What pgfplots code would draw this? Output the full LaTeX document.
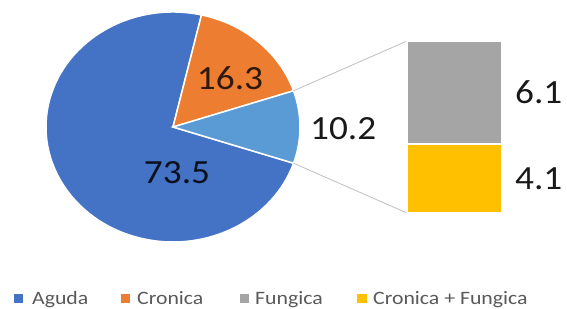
\documentclass[border=0pt]{standalone}
\usepackage{pgfplots}
\pgfplotsset{compat=1.18}
\usepackage{pgfplotstable}
\usepackage{fontspec}
\setmainfont{Carlito}
\newfontfamily\labfont[FakeStretch=1.1]{Carlito}
\newfontfamily\legfont[FakeStretch=1.15]{Carlito}
\definecolor{cA}{HTML}{4472C4}
\definecolor{cB}{HTML}{ED7D31}
\definecolor{cC}{HTML}{5B9BD5}
\definecolor{cD}{HTML}{A5A5A5}
\definecolor{cE}{HTML}{FFC000}
\definecolor{legtxt}{HTML}{595959}
\definecolor{conn}{HTML}{BFBFBF}
\pgfplotstableread{
name value
Aguda 73.5
Cronica 16.3
Otras 10.2
}\pietable
\pgfplotstableread{
x fungica cronfung
0 6.1 4.1
}\bartable
\begin{document}
\begin{tikzpicture}
\useasboundingbox (0,0) rectangle (567bp,309bp);
\pgfplotstablegetelem{0}{value}\of\pietable \let\vA\pgfplotsretval
\pgfplotstablegetelem{1}{value}\of\pietable \let\vB\pgfplotsretval
\pgfplotstablegetelem{2}{value}\of\pietable \let\vC\pgfplotsretval
\pgfmathsetmacro{\aS}{-\vC*1.8}
\pgfmathsetmacro{\aB}{\aS+\vC*3.6}
\pgfmathsetmacro{\aC}{\aB+\vB*3.6}
\pgfmathsetmacro{\aD}{\aC+\vA*3.6}
\begin{axis}[at={(0,0)},anchor=south west, scale only axis, width=567bp, height=309bp,
  xmin=0,xmax=567,ymin=0,ymax=309, hide axis, clip=false]
  \filldraw[fill=cA, draw=white, line width=1.5bp] (axis cs:173,182) -- ++(\aC:127bp and 115bp)
     arc[start angle=\aC, end angle=\aD, x radius=127bp, y radius=115bp] -- cycle;
  \filldraw[fill=cB, draw=white, line width=1.5bp] (axis cs:173,182) -- ++(\aB:127bp and 115bp)
     arc[start angle=\aB, end angle=\aC, x radius=127bp, y radius=115bp] -- cycle;
  \filldraw[fill=cC, draw=white, line width=1.5bp] (axis cs:173,182) -- ++(\aS:127bp and 115bp)
     arc[start angle=\aS, end angle=\aB, x radius=127bp, y radius=115bp] -- cycle;
  \draw[conn, line width=0.8bp] (axis cs:173,182) ++(\aB:127bp and 115bp) -- (axis cs:407,268);
  \draw[conn, line width=0.8bp] (axis cs:173,182) ++(\aS:127bp and 115bp) -- (axis cs:407,96);
  \node[inner sep=0, text=black!85!cA] at (axis cs:177,136) {\labfont\fontsize{34}{34}\selectfont \vA};
  \node[inner sep=0, text=black!80!cB] at (axis cs:230,231) {\labfont\fontsize{34}{34}\selectfont \vB};
  \node[inner sep=0, anchor=west, text=black!90] at (axis cs:310,180) {\labfont\fontsize{34}{34}\selectfont \vC};
  % legend
  \fill[cA] (axis cs:13.5,5.5) rectangle (axis cs:23,15);
  \node[anchor=base west, inner sep=0, text=legtxt] at (axis cs:32,5) {\legfont\fontsize{19}{20}\selectfont Aguda};
  \fill[cB] (axis cs:120.5,5.5) rectangle (axis cs:130,15);
  \node[anchor=base west, inner sep=0, text=legtxt] at (axis cs:137,5) {\legfont\fontsize{19}{20}\selectfont Cronica};
  \fill[cD] (axis cs:239.5,5.5) rectangle (axis cs:249,15);
  \node[anchor=base west, inner sep=0, text=legtxt] at (axis cs:255,5) {\legfont\fontsize{19}{20}\selectfont Fungica};
  \fill[cE] (axis cs:357,5.5) rectangle (axis cs:366.5,15);
  \node[anchor=base west, inner sep=0, text=legtxt] at (axis cs:373,5) {\legfont\fontsize{19}{20}\selectfont Cronica + Fungica};
\end{axis}
\begin{axis}[at={(407bp,96bp)}, anchor=south west, scale only axis, width=95bp, height=172bp,
  xmin=-0.5, xmax=0.5, ymin=0, ymax=10.2, hide axis, ybar stacked, bar width=95bp, clip=false]
  \addplot[fill=cE, draw=white, line width=1.5bp] table[x=x,y=cronfung]{\bartable};
  \addplot[fill=cD, draw=white, line width=1.5bp] table[x=x,y=fungica]{\bartable};
  \node[inner sep=0, anchor=west, text=black!90] at (axis cs:0.5,7.15) [xshift=13bp] {\labfont\fontsize{34}{34}\selectfont 6.1};
  \node[inner sep=0, anchor=west, text=black!90] at (axis cs:0.5,2.05) [xshift=13bp] {\labfont\fontsize{34}{34}\selectfont 4.1};
\end{axis}
\end{tikzpicture}
\end{document}
